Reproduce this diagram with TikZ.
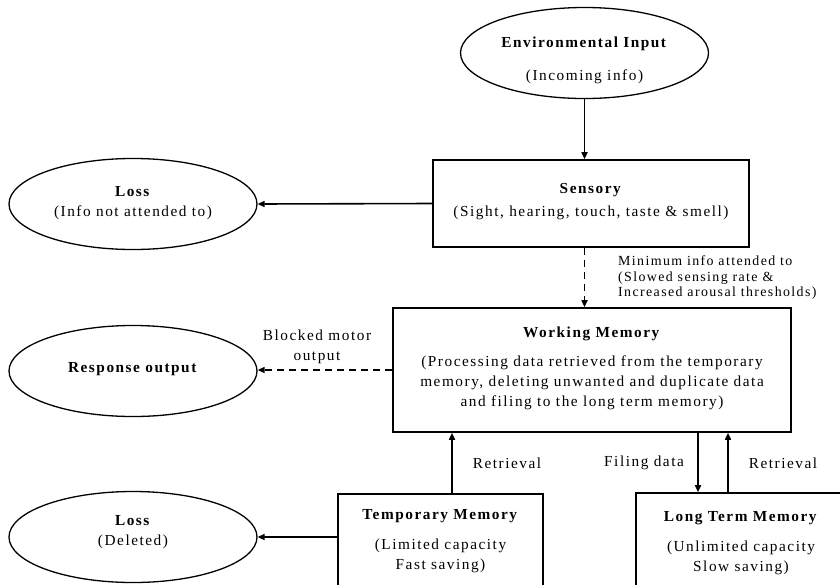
\documentclass[tikz,border=0pt]{standalone}
\usepackage{fontspec}
\setmainfont{Liberation Serif}[LetterSpace=10]
\usetikzlibrary{shapes.geometric,arrows.meta}
\begin{document}
\begin{tikzpicture}[x=1pt,y=-1pt,
  every node/.style={font=\fontsize{15.3}{20}\selectfont},
  ell/.style={draw, line width=1.3pt, ellipse, minimum width=248pt, minimum height=91pt, inner sep=0pt},
  box/.style={draw, line width=1.6pt, rectangle, inner sep=0pt},
  txt/.style={align=center, inner sep=0pt},
  arr/.style={line width=1.6pt, -{Triangle[length=7pt,width=6pt]}},
  darr/.style={arr, dash pattern=on 7pt off 5pt},
]
\useasboundingbox (0,0) rectangle (840,584);
\clip (0,0) rectangle (840,584);
% shapes
\node[ell] (env) at (584.5,53) {};
\node[txt] (envt) at (584.5,60) {\textbf{Environmental Input}\\[13pt](Incoming info)};
\node[box, minimum width=316pt, minimum height=87pt] (sens) at (591,203.5) {};
\node[txt] (senst) at (591,202) {\textbf{Sensory}\\[3pt](Sight, hearing, touch, taste \& smell)};
\node[ell] (loss1) at (133,204) {};
\node[txt] (loss1t) at (133,203) {\textbf{Loss}\\(Info not attended to)};
\node[box, minimum width=398pt, minimum height=124pt] (work) at (592,370) {};
\node[txt] (workt) at (592,368) {\textbf{Working Memory}\\[9pt](Processing data retrieved from the temporary\\memory, deleting unwanted and duplicate data\\and filing to the long term memory)};
\node[ell] (resp) at (133,371) {};
\node[txt] (respt) at (133,369) {\textbf{Response output}};
\node[box, minimum width=205pt, minimum height=120pt] (temp) at (440.5,554) {};
\node[txt] (tempt) at (440.5,541) {\textbf{Temporary Memory}\\[10pt](Limited capacity\\Fast saving)};
\node[box, minimum width=210pt, minimum height=120pt] (ltm) at (741,553) {};
\node[txt] (ltmt) at (741,543) {\textbf{Long Term Memory}\\[10pt](Unlimited capacity\\Slow saving)};
\node[ell] (loss3) at (133,537) {};
\node[txt] (loss3t) at (133,532) {\textbf{Loss}\\(Deleted)};
% labels
\node[txt, anchor=west, align=left, font=\fontsize{13.9}{15.5}\selectfont] (minl) at (618,278) {Minimum info attended to\\(Slowed sensing rate \&\\Increased arousal thresholds)};
\node[txt] (blk) at (317,347) {Blocked motor\\output};
\node[txt] (ret1) at (507,463) {Retrieval};
\node[txt] (fil) at (644,463) {Filing data};
\node[txt] (ret2) at (783,463) {Retrieval};
% connectors
\draw[arr] (env.south) -- (env.south |- sens.north);
\draw[arr] (sens.west) -- (loss1.east);
\draw[darr] (sens.south -| env.south) -- (work.north -| env.south);
\draw[darr] (work.west) -- (work.west -| resp.east);
\draw[arr] ([xshift=11.5pt]temp.north) -- ([xshift=11.5pt]temp.north |- work.south);
\draw[arr] ([xshift=106pt]work.south) -- ([xshift=106pt]work.south |- ltm.north);
\draw[arr] ([xshift=136pt]work.south |- ltm.north) -- ([xshift=136pt]work.south);
\draw[arr] (temp.west |- loss3.east) -- (loss3.east);
\end{tikzpicture}
\end{document}
